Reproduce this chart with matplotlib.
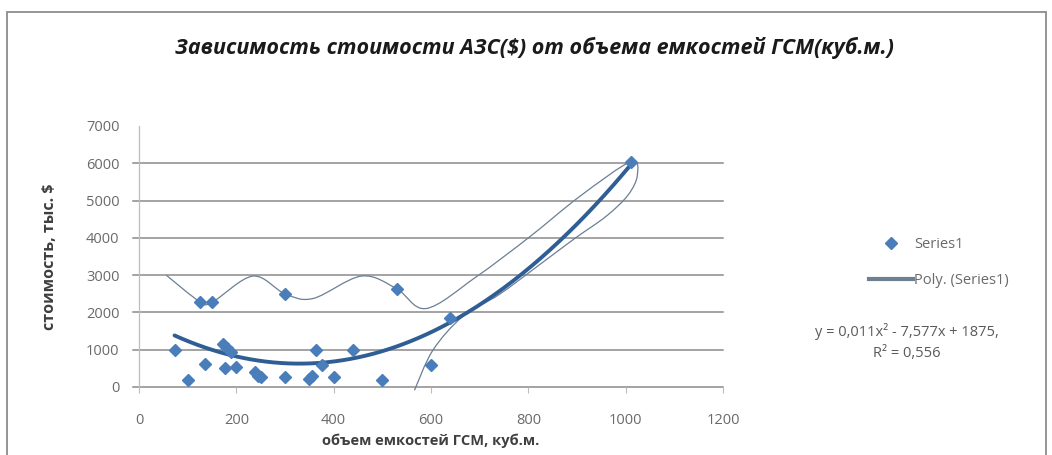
import matplotlib

matplotlib.use("Agg")
import matplotlib.pyplot as plt
from matplotlib.lines import Line2D
from matplotlib.patches import PathPatch, Rectangle
from matplotlib.path import Path
import numpy as np

plt.rcParams["font.family"] = ["Open Sans", "DejaVu Sans"]

# scatter data: tank volume (m3) vs station cost (thousand $)
volume = [73, 100, 125, 150, 135, 172, 180, 190, 176, 200, 238, 245, 250,
          300, 300, 350, 355, 364, 375, 400, 440, 500, 530, 600, 640, 1010]
cost = [1000, 190, 2290, 2290, 620, 1150, 1050, 950, 500, 540, 400, 300, 270,
        2500, 280, 220, 300, 1000, 580, 280, 1000, 180, 2640, 590, 1850, 6030]

# polynomial trend (2nd order)
trend_coef = [0.0115, -7.577, 1875]

# hand-drawn smooth thin curve, knots
thin_x = [56, 125, 152, 234, 300, 358, 457, 529, 590, 693, 803, 905, 1010,
          1024, 1005, 960, 895, 820, 740, 666, 604, 566]
thin_y = [3000, 2290, 2290, 2975, 2500, 2375, 2975, 2640, 2105, 2955, 4030,
          5105, 6040, 5680, 5150, 4580, 3980, 3250, 2480, 1900, 990, -90]

x_ticks = [0, 200, 400, 600, 800, 1000, 1200]
y_ticks = [0, 1000, 2000, 3000, 4000, 5000, 6000, 7000]

title = "Зависимость стоимости АЗС($) от объема емкостей ГСМ(куб.м.)"
x_title = "объем емкостей ГСМ, куб.м."
y_title = "стоимость, тыс. $"
eq_text = "y = 0,011x² - 7,577x + 1875,\nR² = 0,556"

W, H = 1052, 455
fig = plt.figure(figsize=(W / 100, H / 100), dpi=100)
fig.patch.set_facecolor("white")

# outer chart border
fig.add_artist(Rectangle((7 / W, -0.05), (1046 - 7) / W, (H - 12) / H + 0.05,
                         transform=fig.transFigure, fill=False,
                         edgecolor="#8c8c8c", linewidth=1.3))

ax = fig.add_axes([139 / W, (H - 387) / H, (723 - 139) / W, (387 - 126) / H])
ax.set_xlim(0, 1200)
ax.set_ylim(0, 7000)

for yv in y_ticks[:-1]:
    ax.add_line(Line2D([-0.011, 1], [yv / 7000, yv / 7000], transform=ax.transAxes,
                       color="#8a8a8a", linewidth=1.1, clip_on=False, zorder=1))

for side in ["top", "right", "bottom"]:
    ax.spines[side].set_visible(False)
ax.spines["left"].set_color("#bdbdbd")
ax.spines["left"].set_linewidth(0.9)

ax.set_xticks(x_ticks)
ax.set_yticks(y_ticks)
ax.tick_params(axis="y", length=0, pad=14, labelsize=10.5, labelcolor="#6a6a6a")
ax.tick_params(axis="x", length=4, width=0.8, color="#bdbdbd", pad=15,
               labelsize=10.5, labelcolor="#6a6a6a")

# thin curve: Catmull-Rom through knots, rendered as cubic Bezier
pts = np.column_stack([thin_x, thin_y]).astype(float)
ext = np.vstack([pts[0], pts, pts[-1]])
verts = [tuple(pts[0])]
codes = [Path.MOVETO]
for i in range(1, len(ext) - 2):
    p0, p1, p2, p3 = ext[i - 1], ext[i], ext[i + 1], ext[i + 2]
    verts += [tuple(p1 + (p2 - p0) / 6), tuple(p2 - (p3 - p1) / 6), tuple(p2)]
    codes += [Path.CURVE4] * 3
ax.add_patch(PathPatch(Path(verts, codes), facecolor="none", edgecolor="#6b7f94",
                       linewidth=0.9, clip_on=False, zorder=3))

xs = np.linspace(min(volume), max(volume), 300)
ax.plot(xs, np.polyval(trend_coef, xs), color="#2f5e94", linewidth=2.8,
        solid_capstyle="round", zorder=4, label="Poly. (Series1)")
ax.plot(volume, cost, linestyle="none", marker="D", markersize=6.5,
        color="#4a7ebb", zorder=5, label="Series1")

fig.text(534 / W, 1 - 48 / H, title, ha="center", va="center", fontsize=15.5,
         style="italic", fontweight="bold", color="#1a1a1a")
fig.text(431 / W, 1 - 441 / H, x_title, ha="center", va="center", fontsize=10.5,
         fontweight="bold", color="#3f3f3f")
fig.text(50 / W, 1 - 257 / H, y_title, ha="center", va="center", fontsize=11.5,
         fontweight="bold", color="#3f3f3f", rotation=90)

handles = [Line2D([], [], linestyle="none", marker="D", markersize=6.5, color="#4a7ebb"),
           Line2D([], [], color="#6f7f92", linewidth=3)]
fig.legend(handles, ["Series1", "Poly. (Series1)"], loc="upper left",
           bbox_to_anchor=(869 / W, 1 - 237 / H), frameon=False, fontsize=10.5,
           handlelength=3.0, handletextpad=0.1, labelspacing=1.45, borderpad=0,
           borderaxespad=0, labelcolor="#6a6a6a")

fig.text(907 / W, 1 - 342 / H, eq_text, ha="center", va="center", fontsize=10.5,
         color="#5a5a5a", linespacing=1.6)

fig.savefig("out.png", dpi=100)
